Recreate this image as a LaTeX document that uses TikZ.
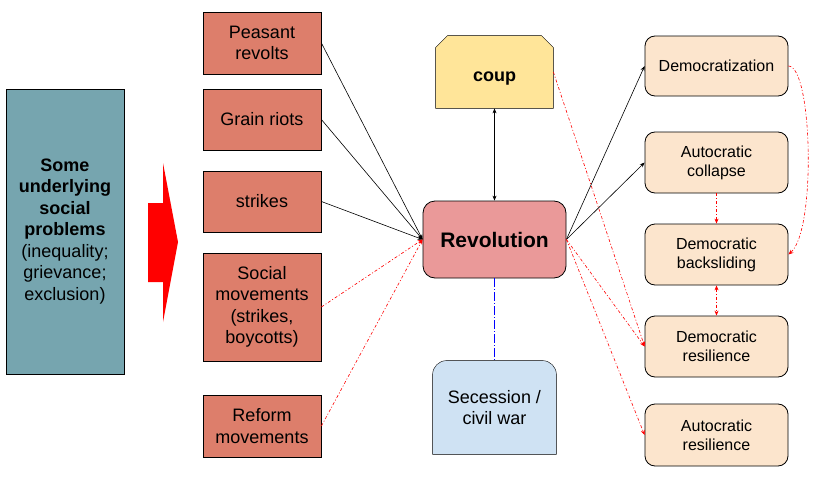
\documentclass[tikz,border=0pt]{standalone}
\usepackage{fontspec}
\setmainfont{Liberation Sans}
\usepackage{xcolor}
\usepackage{tikz}
\usetikzlibrary{arrows.meta, positioning, backgrounds}
\definecolor{problemteal}{RGB}{118,165,175}
\definecolor{causered}{RGB}{221,126,107}
\definecolor{revpink}{RGB}{234,153,153}
\definecolor{coupyellow}{RGB}{255,229,153}
\definecolor{secblue}{RGB}{207,226,243}
\definecolor{outcomepeach}{RGB}{252,229,205}
\tikzset{
    problem/.style={rectangle, draw, fill=problemteal, minimum width=118pt, minimum height=285pt, text centered, align=center, font=\fontsize{18}{21.5}\selectfont},
    cause/.style={rectangle, draw, fill=causered, minimum width=118pt, text centered, align=center, font=\fontsize{18}{21.5}\selectfont},
    revbox/.style={rectangle, rounded corners=12pt, draw, fill=revpink, minimum width=143pt, minimum height=77pt, text centered, font=\bfseries\fontsize{21}{25}\selectfont},
    coupbox/.style={rectangle, minimum width=117pt, minimum height=72pt, text centered, font=\bfseries\fontsize{18}{21.5}\selectfont},
    secbox/.style={rectangle, minimum width=123pt, minimum height=93pt, text centered, align=center, font=\fontsize{18}{21.5}\selectfont},
    outcome/.style={rectangle, rounded corners=10pt, draw, fill=outcomepeach, minimum width=143pt, minimum height=61pt, text centered, align=center, font=\fontsize{16}{19}\selectfont},
    arrow/.style={->, >={Stealth[length=5pt, width=4pt]}},
    redflow/.style={->, >={Stealth[length=5pt, width=4pt]}, red, dash pattern=on 3pt off 2pt on 1pt off 2pt},
    blueflow/.style={blue, dash pattern=on 9pt off 2pt on 1pt off 2pt}
}

\begin{document}
\begin{tikzpicture}[
    x=1pt, y=-1pt,
    line width=0.8pt,
    every node/.style={align=center}
]
    \useasboundingbox (0,0) rectangle (815,479);

    % Underlying problems and the big arrow
    \node[problem] (problems) at (65,231.5) {%
        {\bfseries Some}\\{\bfseries underlying}\\{\bfseries social}\\{\bfseries problems}\\(inequality;\\grievance;\\exclusion)};
    \fill[red] (148,203) -- (163,203) -- (163,163) -- (178,242) -- (163,322) -- (163,282) -- (148,282) -- cycle;

    % Forms of contention
    \node[cause, minimum height=62pt] (peasant) at (262,43) {Peasant\\revolts};
    \node[cause, minimum height=61pt] (grain) at (262,119.5) {Grain riots};
    \node[cause, minimum height=61pt] (strikes) at (262,201.5) {strikes};
    \node[cause, minimum height=108pt] (social) at (262,307) {Social\\movements\\(strikes,\\boycotts)};
    \node[cause, minimum height=62pt] (reform) at (262,426) {Reform\\movements};

    % Middle column
    \node[revbox] (revolution) at (494.5,239.5) {Revolution};
    \node[coupbox] (coup) at (494.5,72) {\raisebox{-5pt}[\height][0pt]{coup}};
    \node[secbox] (secession) at (494.5,407.5) {Secession /\\civil war};
    \begin{scope}[on background layer]
        \draw[fill=coupyellow] (coup.south west) -- ([yshift=-12pt]coup.north west)
            -- ([xshift=12pt]coup.north west) -- ([xshift=-12pt]coup.north east)
            -- ([yshift=-12pt]coup.north east) -- (coup.south east) -- cycle;
        \draw[fill=secblue] (secession.south west) -- ([yshift=-14pt]secession.north west)
            arc[start angle=180, end angle=90, radius=14pt] -- ([xshift=-14pt]secession.north east)
            arc[start angle=90, end angle=0, radius=14pt] -- (secession.south east) -- cycle;
    \end{scope}

    % Outcomes
    \node[outcome, minimum height=60pt] (democ) at (716.5,66) {Democratization};
    \node[outcome] (autcollapse) at (716.5,162.5) {Autocratic\\collapse};
    \node[outcome] (backslide) at (716.5,254.5) {Democratic\\backsliding};
    \node[outcome] (demresil) at (716.5,346.5) {Democratic\\resilience};
    \node[outcome, minimum height=62pt] (autresil) at (716.5,435) {Autocratic\\resilience};

    % Connections into revolution
    \draw[arrow, line width=0.6pt] (peasant.east) -- (revolution.west);
    \draw[arrow, line width=0.6pt] (grain.east) -- (revolution.west);
    \draw[arrow, line width=0.6pt] (strikes.east) -- (revolution.west);
    \draw[redflow, line width=0.6pt] (social.east) -- (revolution.west);
    \draw[redflow, line width=0.6pt] (reform.east) -- (revolution.west);
    \draw[arrow, <->, line width=0.6pt] (coup.south) -- (revolution.north);
    \draw[blueflow, line width=0.6pt] (revolution.south) -- (secession.north);

    % Connections out to outcomes
    \draw[arrow, line width=0.6pt] (revolution.east) -- (democ.west);
    \draw[arrow, line width=0.6pt] (revolution.east) -- (autcollapse.west);
    \draw[redflow, line width=0.6pt] (revolution.east) -- (demresil.west);
    \draw[redflow, line width=0.6pt] (revolution.east) -- (autresil.west);
    \draw[redflow, line width=0.6pt] (coup.east) -- (demresil.west);
    \draw[redflow, line width=0.6pt] (autcollapse.south) -- (backslide.north);
    \draw[redflow, <->, line width=0.6pt] (backslide.south) -- (demresil.north);
    \draw[redflow, line width=0.6pt] (democ.east) .. controls +(24,0) and +(28,-24) .. (backslide.east);

\end{tikzpicture}
\end{document}
